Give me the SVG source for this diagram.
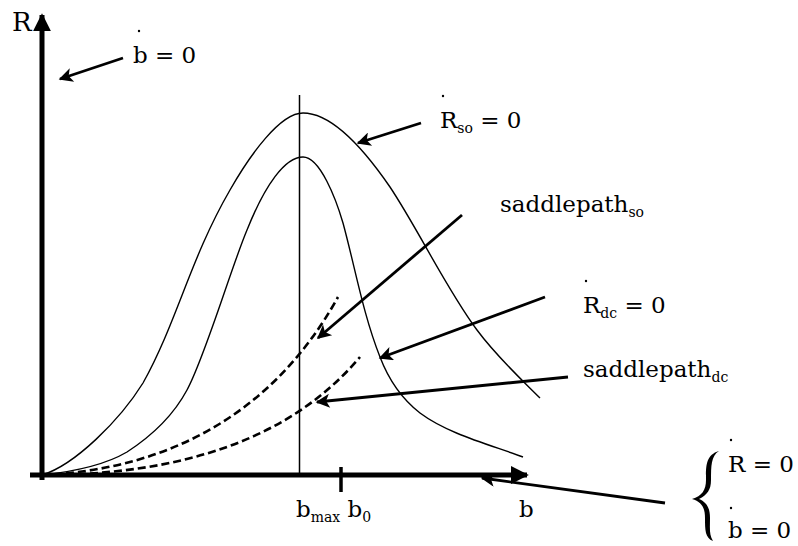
<svg xmlns="http://www.w3.org/2000/svg" width="798" height="546" viewBox="0 0 798 546">
<style>
text{font-family:"DejaVu Serif","Liberation Serif",serif;font-size:23px;fill:#000}
.sub{font-size:14px}
.axis{stroke:#000;stroke-width:5;fill:none}
.curve{stroke:#000;stroke-width:1.4;fill:none}
.dash{stroke:#000;stroke-width:2.6;fill:none;stroke-dasharray:8,4}
.arr{stroke:#000;stroke-width:2.8;fill:none;marker-end:url(#ah)}
.dot{fill:#000}
</style>
<defs>
<marker id="ah" viewBox="0 0 10 10" refX="9" refY="5" markerWidth="6" markerHeight="5" markerUnits="strokeWidth" orient="auto">
<path d="M0,0 L10,5 L0,10 L2.5,5 Z" fill="#000"/>
</marker>
<marker id="axh" viewBox="0 0 10 10" refX="9" refY="5" markerWidth="3.6" markerHeight="3.6" markerUnits="strokeWidth" orient="auto">
<path d="M0,0 L10,5 L0,10 Z" fill="#000"/>
</marker>
</defs>
<rect width="798" height="546" fill="#fff"/>
<g id="axes">
<line class="axis" x1="42" y1="480" x2="42" y2="15" marker-end="url(#axh)"/>
<line class="axis" x1="30" y1="475" x2="527" y2="475" marker-end="url(#axh)"/>
<line x1="341" y1="467" x2="341" y2="492" stroke="#000" stroke-width="3.5"/>
<line x1="299.5" y1="95" x2="299.5" y2="475" stroke="#000" stroke-width="1.5"/>
</g>
<g id="curves">
<path id="rso" class="curve" d="M42,475 C75,465 120,420 143,383 C177,322 190,259 230,190 C250,155 280,113 303,113 C335,113 368,155 390,187 C418,229 447,290 477,330 C497,357 520,378 540,398"/>
<path id="rdc" class="curve" d="M42,475 C70,472 105,465 127,452 C147,439 172,418 187,390 C205,357 231,268 247,230 C265,185 285,157 303,157 C320,157 336,199 343,223 C355,267 363,314 380,357 C388,378 402,399 420,413 C448,434 491,445 523,457"/>
<path id="spso" class="dash" d="M42,475 C160,470 270,420 338,297"/>
<path id="spdc" class="dash" d="M42,475 C180,475 290,440 360,357"/>
</g>
<g id="connectors">
<line class="arr" x1="123" y1="58" x2="60" y2="79"/>
<line class="arr" x1="421" y1="123" x2="358" y2="143"/>
<line class="arr" x1="462" y1="215" x2="318" y2="338"/>
<line class="arr" x1="545" y1="297" x2="380" y2="358"/>
<line class="arr" x1="568" y1="377" x2="317" y2="402"/>
<line class="arr" x1="665" y1="503" x2="482" y2="478"/>
</g>
<g id="labels">
<text x="12" y="31" style="font-size:26px">R</text>
<text x="133" y="63">b = 0</text><circle class="dot" cx="139" cy="31" r="1.2"/>
<text x="440" y="128">R<tspan class="sub" dy="5">so</tspan><tspan dy="-5"> = 0</tspan></text><circle class="dot" cx="443" cy="96" r="1.2"/>
<text x="500" y="212">saddlepath<tspan class="sub" dy="5">so</tspan></text>
<text x="583" y="313">R<tspan class="sub" dy="5">dc</tspan><tspan dy="-5"> = 0</tspan></text><circle class="dot" cx="586" cy="281" r="1.2"/>
<text x="583" y="377">saddlepath<tspan class="sub" dy="5">dc</tspan></text>
<text x="296" y="517">b<tspan class="sub" dy="5">max</tspan><tspan dy="-5"> b</tspan><tspan class="sub" dy="5">0</tspan></text>
<text x="519" y="517">b</text>
<path id="brace" d="M719,451 C705,455 706,468 706,480 C706,490 702,496 692,499 C702,502 705,508 705,518 C705,530 705,538 713,541 C709,535 710,528 710,518 C710,507 706,502 699,499 C707,495 711,490 711,480 C711,466 711,456 719,451 Z" fill="#000"/>
<text x="728" y="472">R = 0</text><circle class="dot" cx="731" cy="440" r="1.2"/>
<text x="728" y="538">b = 0</text><circle class="dot" cx="731" cy="508" r="1.2"/>
</g>
</svg>
